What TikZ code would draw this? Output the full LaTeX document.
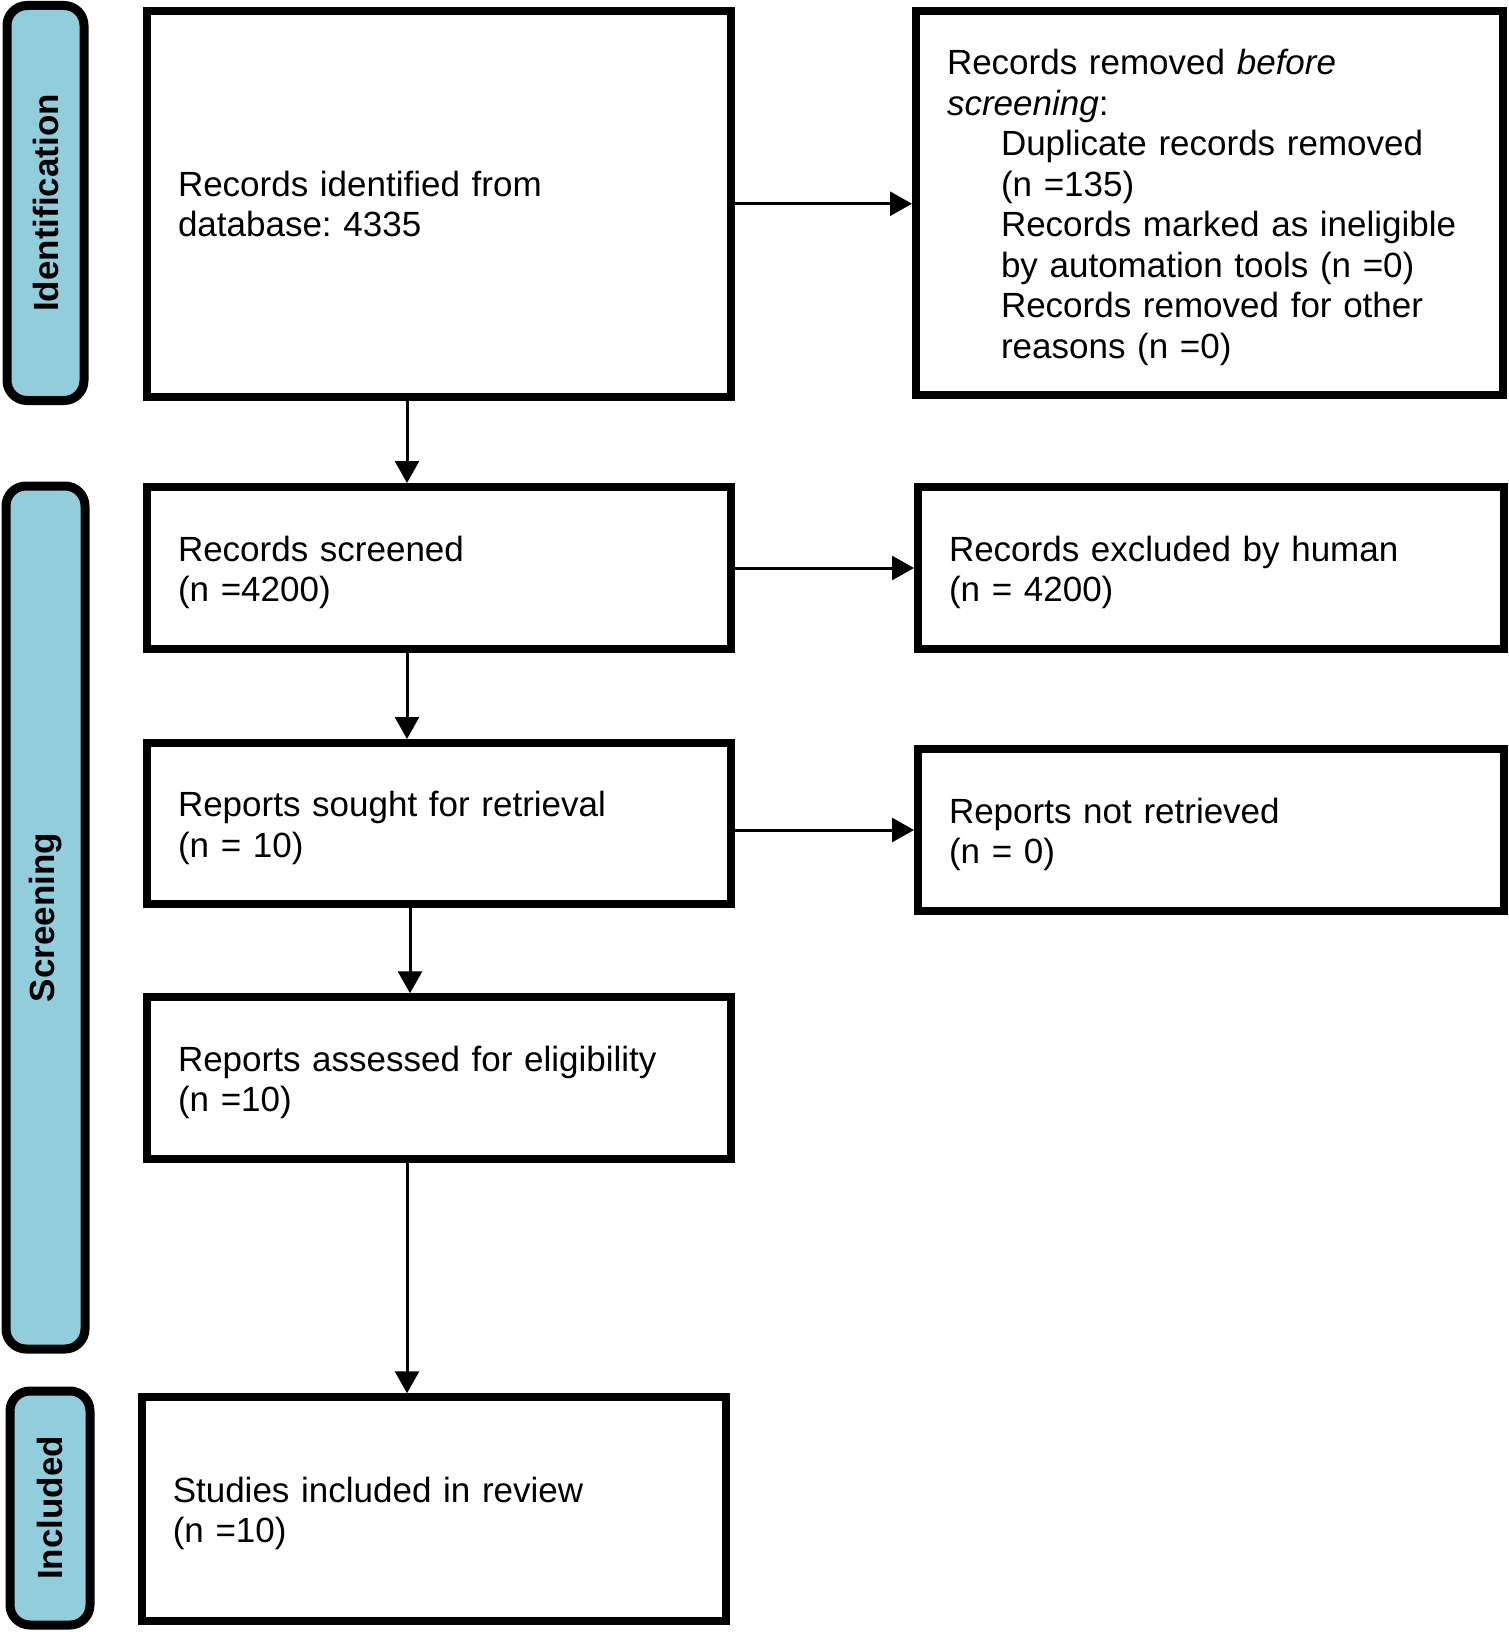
\documentclass[tikz,border=0pt]{standalone}
\usepackage{fontspec}
\setmainfont{Liberation Sans}
\usepackage{tikz}
\usepackage{xcolor}
\usetikzlibrary{arrows.meta}
\definecolor{stageblue}{RGB}{146,205,220}
\frenchspacing

\begin{document}
\begin{tikzpicture}[x=1pt,y=1pt,yscale=-1,xscale=1,
    flowbox/.style={draw,line width=8pt,rectangle,inner xsep=31pt,inner ysep=0pt,align=left,font=\fontsize{35}{40.5}\selectfont,execute at begin node={\rule{0pt}{#1}}},
    flowbox/.default=34pt,
    stagebar/.style={draw,line width=9pt,fill=stageblue,rounded corners=20pt,rotate=90,inner sep=0pt,font=\fontsize{35}{40}\selectfont\bfseries},
    flowarrow/.style={line width=3pt,-{Triangle[width=24pt,length=22pt]}}]
    \useasboundingbox (0,0) rectangle (1508,1632);

    %Rounded Rect: stages
    \node[stagebar,minimum width=395pt,minimum height=77pt] (idbar) at (45.5,203) {Identification};
    %Rounded Rect
    \node[stagebar,minimum width=863pt,minimum height=79pt] (scrbar) at (45.5,917.5) {Screening};
    %Rounded Rect
    \node[stagebar,minimum width=234pt,minimum height=80pt] (incbar) at (50,1508) {Included};

    %Shape: Rectangle [left column]
    \node[flowbox=26pt,text width=522pt,minimum height=385.5pt] (ident) at (439,203.75) {Records identified from\\database: 4335};
    %Shape: Rectangle
    \node[flowbox,text width=522pt,minimum height=162pt] (screened) at (439,568) {Records screened\\(n =4200)};
    %Shape: Rectangle
    \node[flowbox,text width=522pt,minimum height=161pt] (sought) at (439,823.5) {Reports sought for retrieval\\(n = 10)};
    %Shape: Rectangle
    \node[flowbox,text width=522pt,minimum height=161.5pt] (assessed) at (439,1078) {Reports assessed for eligibility\\(n =10)};
    %Shape: Rectangle
    \node[flowbox,text width=522pt,minimum height=223.5pt] (included) at (433.75,1509) {Studies included in review\\(n =10)};

    %Shape: Rectangle [right column]
    \node[flowbox,text width=525pt,minimum height=384.5pt] (removed) at (1209.5,203) {Records removed \textit{before}\\\textit{screening}:\\
        \hspace*{54pt}Duplicate records removed\\\hspace*{54pt}(n =135)\\
        \hspace*{54pt}Records marked as ineligible\\\hspace*{54pt}by automation tools (n =0)\\
        \hspace*{54pt}Records removed for other\\\hspace*{54pt}reasons (n =0)};
    %Shape: Rectangle
    \node[flowbox,text width=524pt,minimum height=162pt] (excluded) at (1211,568) {Records excluded by human\\(n = 4200)};
    %Shape: Rectangle
    \node[flowbox,text width=524pt,minimum height=162pt] (notretr) at (1211,830) {Reports not retrieved\\(n = 0)};

    %Straight Lines
    \draw[flowarrow] (ident.east) -- (ident.east -| removed.west);
    %Straight Lines
    \draw[flowarrow] (screened.east) -- (excluded.west);
    %Straight Lines
    \draw[flowarrow] (notretr.west -| sought.east) -- (notretr.west);
    %Straight Lines
    \draw[flowarrow] ([xshift=-32pt]ident.south) -- ([xshift=-32pt]screened.north);
    %Straight Lines
    \draw[flowarrow] ([xshift=-32pt]screened.south) -- ([xshift=-32pt]sought.north);
    %Straight Lines
    \draw[flowarrow] ([xshift=-29pt]sought.south) -- ([xshift=-29pt]assessed.north);
    %Straight Lines
    \draw[flowarrow] ([xshift=-32pt]assessed.south) -- ([xshift=-32pt]assessed.south |- included.north);

\end{tikzpicture}
\end{document}
